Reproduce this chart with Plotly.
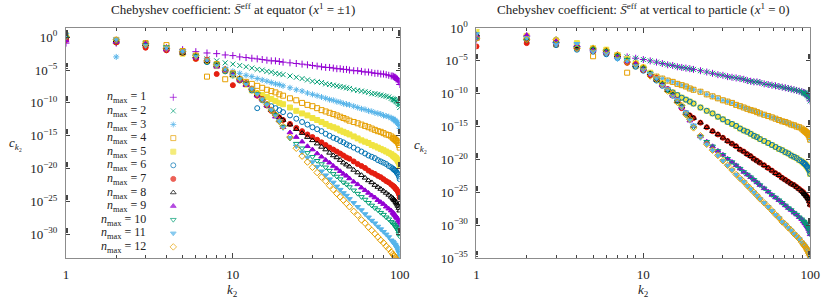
import numpy as np
import plotly.graph_objects as go

# ---------------- data (log10 of Chebyshev coefficient c_k2) ----------------
K2 = list(range(1, 21)) + list(range(22, 51, 2)) + list(range(53, 90, 3)) + list(range(91, 101))

# Left panel: at equator (x^1 = +-1), one list per n_max
EQ_N1 = [-0.9,-0.9,-1.3,-1.6,-1.9,-2.2,-2.4,-2.5,-2.7,-2.8,-3.0,-3.1,-3.2,-3.3,-3.4,-3.5,-3.6,-3.6,-3.7,-3.8,
         -3.9,-4.0,-4.1,-4.2,-4.3,-4.4,-4.5,-4.6,-4.6,-4.7,-4.8,-4.8,-4.9,-4.9,-5.0,
         -5.1,-5.1,-5.2,-5.3,-5.3,-5.4,-5.5,-5.5,-5.6,-5.6,-5.7,-5.8,-5.9,
         -5.9,-6.0,-6.1,-6.1,-6.2,-6.3,-6.4,-6.6,-6.8,-7.2]
EQ_N2 = [-0.1,-0.5,-1.0,-1.6,-2.3,-2.9,-3.3,-3.6,-3.9,-4.1,-4.3,-4.5,-4.7,-4.9,-5.0,-5.2,-5.3,-5.5,-5.6,-5.7,
         -5.9,-6.1,-6.3,-6.5,-6.7,-6.8,-6.9,-7.1,-7.2,-7.3,-7.4,-7.5,-7.6,-7.7,-7.8,
         -8.0,-8.1,-8.2,-8.3,-8.4,-8.6,-8.6,-8.7,-8.8,-8.9,-9.0,-9.1,-9.3,
         -9.4,-9.5,-9.5,-9.6,-9.7,-9.8,-9.9,-10.1,-10.3,-10.7]
EQ_N3 = [-0.3,-3.0,-1.2,-1.9,-2.4,-3.1,-3.7,-4.3,-4.8,-5.2,-5.5,-5.8,-6.0,-6.3,-6.5,-6.7,-6.9,-7.1,-7.2,-7.4,
         -7.7,-8.0,-8.2,-8.5,-8.7,-8.9,-9.1,-9.3,-9.5,-9.6,-9.8,-9.9,-10.1,-10.2,-10.3,
         -10.5,-10.7,-10.9,-11.0,-11.2,-11.3,-11.5,-11.6,-11.7,-11.9,-12.0,-12.1,-12.3,
         -12.4,-12.5,-12.6,-12.7,-12.8,-12.9,-13.0,-13.2,-13.4,-13.9]
EQ_N4 = [0.2,-0.4,-0.9,-1.2,-2.1,-2.8,-6.0,-4.1,-6.4,-5.5,-6.4,-6.8,-7.1,-7.4,-7.7,-8.0,-8.2,-8.4,-8.7,-8.9,
         -9.3,-9.6,-10.0,-10.3,-10.5,-10.8,-11.1,-11.3,-11.5,-11.7,-11.9,-12.1,-12.3,-12.5,-12.7,
         -12.9,-13.1,-13.3,-13.5,-13.7,-13.9,-14.1,-14.3,-14.4,-14.6,-14.8,-14.9,-15.1,
         -15.3,-15.4,-15.5,-15.6,-15.7,-15.8,-15.9,-16.1,-16.4,-16.8]
EQ_N5 = [0.3,-0.7,-1.3,-1.8,-2.5,-3.2,-3.5,-4.4,-5.1,-5.8,-6.5,-7.2,-8.1,-8.5,-8.8,-9.1,-9.4,-9.7,-10.0,-10.2,
         -10.7,-11.2,-11.6,-11.9,-12.3,-12.6,-12.9,-13.2,-13.5,-13.7,-13.9,-14.2,-14.4,-14.6,-14.8,
         -15.1,-15.4,-15.7,-15.9,-16.1,-16.4,-16.6,-16.8,-17.0,-17.2,-17.4,-17.6,-17.8,
         -18.0,-18.1,-18.2,-18.3,-18.4,-18.5,-18.7,-18.9,-19.1,-19.6]
EQ_N6 = [-0.3,-0.8,-1.0,-1.9,-2.2,-3.1,-3.8,-4.2,-5.2,-5.6,-6.6,-7.0,-8.1,-10.8,-9.6,-10.2,-10.5,-10.8,-11.1,-11.4,
         -11.9,-12.4,-12.9,-13.3,-13.7,-14.0,-14.3,-14.7,-15.0,-15.3,-15.5,-15.8,-16.0,-16.3,-16.5,
         -16.8,-17.1,-17.4,-17.7,-18.0,-18.2,-18.4,-18.7,-18.9,-19.1,-19.3,-19.6,-19.8,
         -20.0,-20.1,-20.2,-20.3,-20.4,-20.6,-20.7,-20.9,-21.2,-21.6]
EQ_N7 = [-0.4,-0.8,-1.6,-2.0,-2.4,-3.3,-3.4,-5.6,-4.9,-7.3,-6.5,-7.0,-7.9,-8.9,-9.4,-10.4,-11.2,-11.9,-12.2,-12.6,
         -13.2,-13.8,-14.3,-14.8,-15.2,-15.6,-16.0,-16.4,-16.8,-17.1,-17.4,-17.7,-18.0,-18.3,-18.5,
         -18.9,-19.3,-19.6,-19.9,-20.3,-20.6,-20.8,-21.1,-21.3,-21.6,-21.9,-22.1,-22.4,
         -22.6,-22.7,-22.8,-23.0,-23.1,-23.2,-23.4,-23.6,-23.9,-24.4]
EQ_N8 = [0.1,-0.5,-1.1,-1.6,-2.4,-2.9,-3.7,-4.3,-4.9,-5.8,-6.3,-7.2,-7.8,-8.8,-9.4,-10.4,-11.1,-11.7,-12.2,-12.6,
         -13.3,-14.0,-14.6,-15.2,-15.7,-16.2,-16.7,-17.1,-17.6,-18.0,-18.3,-18.7,-19.1,-19.4,-19.7,
         -20.2,-20.6,-21.0,-21.4,-21.8,-22.1,-22.5,-22.8,-23.1,-23.4,-23.7,-24.0,-24.3,
         -24.5,-24.7,-24.8,-24.9,-25.1,-25.3,-25.5,-25.7,-26.0,-26.4]
EQ_N9 = [-0.5,-0.7,-0.9,-1.9,-2.2,-3.1,-3.5,-4.5,-5.1,-5.6,-6.5,-7.3,-7.8,-8.9,-9.5,-10.4,-11.0,-12.1,-12.7,-13.7,
         -14.5,-15.2,-15.9,-16.6,-17.1,-17.7,-18.2,-18.7,-19.1,-19.6,-20.0,-20.4,-20.8,-21.1,-21.5,
         -22.0,-22.4,-22.9,-23.3,-23.7,-24.1,-24.4,-24.8,-25.1,-25.4,-25.8,-26.1,-26.4,
         -26.7,-26.8,-27.0,-27.1,-27.3,-27.4,-27.6,-27.9,-28.2,-28.6]
EQ_N10 = [0.0,-0.6,-1.2,-1.5,-2.4,-2.8,-3.8,-4.1,-5.2,-5.5,-6.4,-7.0,-8.0,-8.6,-9.6,-10.2,-11.2,-11.8,-12.9,-13.6,
          -15.4,-16.2,-16.9,-17.6,-18.2,-18.8,-19.3,-19.8,-20.3,-20.8,-21.2,-21.6,-22.1,-22.4,-22.8,
          -23.3,-23.8,-24.3,-24.7,-25.2,-25.6,-26.0,-26.3,-26.7,-27.0,-27.4,-27.7,-28.1,
          -28.3,-28.5,-28.6,-28.8,-28.9,-29.1,-29.3,-29.5,-29.9,-30.3]
EQ_N11 = [0.4,-0.3,-1.3,-1.6,-2.1,-3.0,-3.4,-4.4,-4.8,-5.9,-6.3,-7.2,-7.8,-8.7,-9.4,-10.3,-11.0,-12.0,-12.7,-13.8,
          -15.3,-16.6,-17.5,-18.3,-19.0,-19.7,-20.4,-21.0,-21.6,-22.1,-22.7,-23.2,-23.7,-24.1,-24.6,
          -25.2,-25.8,-26.3,-26.9,-27.4,-27.9,-28.3,-28.8,-29.2,-29.6,-30.0,-30.4,-30.9,
          -31.1,-31.3,-31.5,-31.6,-31.8,-32.0,-32.2,-32.5,-32.8,-33.3]
EQ_N12 = [0.1,-0.4,-1.0,-1.7,-2.2,-2.8,-3.6,-4.2,-5.0,-5.6,-6.3,-7.1,-7.9,-8.6,-9.5,-10.2,-11.1,-11.8,-12.8,-13.6,
          -15.2,-16.9,-18.1,-19.0,-19.8,-20.6,-21.3,-21.9,-22.6,-23.2,-23.8,-24.3,-24.8,-25.3,-25.8,
          -26.5,-27.1,-27.8,-28.3,-28.9,-29.4,-29.9,-30.4,-30.9,-31.3,-31.8,-32.2,-32.7,
          -33.0,-33.2,-33.3,-33.5,-33.7,-33.9,-34.1,-34.4,-34.7,-35.2]

# Right panel: vertical to particle (x^1 = 0); series come in overlapping pairs.
# Early (scattered) part of each series, then the shared tail of its pair.
VP_HEAD_1 = [-1.8,-1.2]
VP_HEAD_2 = [-0.6,-1.5]
VP_TAIL_12 = [-2.2,-2.8,-3.3,-3.7,-4.1,-4.4,-4.6,-4.8,-5.0,-5.2,-5.4,-5.6,-5.7,-5.9,-6.0,-6.1,-6.2,-6.3,
              -6.5,-6.7,-6.9,-7.1,-7.2,-7.4,-7.5,-7.6,-7.7,-7.8,-8.0,-8.1,-8.2,-8.2,-8.3,
              -8.5,-8.6,-8.7,-8.8,-8.9,-9.0,-9.1,-9.2,-9.3,-9.4,-9.5,-9.6,-9.7,
              -9.8,-9.9,-9.9,-10.0,-10.1,-10.2,-10.3,-10.5,-10.7,-11.1]
VP_HEAD_3 = [-0.8,-1.9,-1.7,-3.2,-3.0,-3.9,-4.5,-5.3,-5.4,-6.1]
VP_HEAD_4 = [-1.5,-1.4,-2.5,-2.6,-4.3,-3.7,-4.2,-6.8,-5.8,-6.3]
VP_TAIL_34 = [-7.0,-7.4,-7.7,-8.0,-8.2,-8.5,-8.7,-8.9,-9.2,-9.4,
              -9.7,-10.1,-10.4,-10.7,-11.0,-11.2,-11.4,-11.7,-11.9,-12.1,-12.3,-12.5,-12.6,-12.8,-13.0,
              -13.2,-13.4,-13.6,-13.8,-14.0,-14.2,-14.3,-14.5,-14.7,-14.8,-15.0,-15.1,-15.3,
              -15.5,-15.6,-15.7,-15.8,-15.9,-16.0,-16.1,-16.3,-16.6,-17.0]
VP_HEAD_5 = [-0.6,-1.2,-1.9,-2.3,-3.1,-3.3,-4.1,-4.7,-5.4,-6.0,-6.8,-7.6,-8.4]
VP_HEAD_6 = [-1.3,-1.8,-2.6,-3.3,-3.6,-4.0,-4.6,-5.2,-5.9,-6.5,-7.2,-8.0,-8.8]
VP_TAIL_56 = [-9.4,-9.8,-10.2,-10.6,-10.9,-11.2,-11.5,
              -12.1,-12.6,-13.0,-13.5,-13.9,-14.3,-14.6,-14.9,-15.3,-15.6,-15.8,-16.1,-16.4,-16.6,-16.9,
              -17.2,-17.5,-17.8,-18.1,-18.4,-18.6,-18.9,-19.1,-19.4,-19.6,-19.8,-20.1,-20.3,
              -20.5,-20.6,-20.7,-20.8,-21.0,-21.1,-21.3,-21.5,-21.7,-22.2]
VP_HEAD_7 = [-2.8,-2.3,-2.4,-3.0,-3.5,-3.8,-4.4,-5.3,-5.5,-6.4,-7.2,-7.6,-8.7,-9.3,-10.3,-11.0,-12.2]
VP_HEAD_8 = [-1.0,-1.6,-2.1,-2.8,-3.2,-3.5,-4.2,-4.9,-5.7,-6.1,-6.9,-7.9,-8.5,-9.5,-10.1,-11.2,-11.9]
VP_TAIL_78 = [-12.9,-13.3,-13.7,
              -14.4,-15.1,-15.7,-16.2,-16.7,-17.2,-17.6,-18.0,-18.5,-18.8,-19.2,-19.5,-19.9,-20.2,-20.5,
              -20.9,-21.3,-21.7,-22.1,-22.4,-22.8,-23.1,-23.4,-23.7,-23.9,-24.2,-24.5,-24.8,
              -25.0,-25.2,-25.3,-25.4,-25.6,-25.7,-25.9,-26.1,-26.4,-26.9]
VP_HEAD_9 = [-1.2,-1.1,-2.0,-2.6,-3.4,-3.7,-4.4,-5.1,-5.5,-6.3,-7.1,-7.7,-8.7,-9.3,-10.3,-11.0,-12.1,-12.9,-14.1,-14.9]
VP_HEAD_10 = [-1.7,-1.9,-2.3,-3.0,-3.2,-3.5,-4.2,-4.8,-5.7,-6.1,-6.9,-7.9,-8.5,-9.5,-10.1,-11.2,-11.9,-13.1,-13.9,-15.1]
VP_TAIL_910 = [-16.5,-17.3,-18.0,-18.7,-19.3,-19.9,-20.4,-20.9,-21.4,-21.9,-22.3,-22.7,-23.1,-23.5,-23.9,
               -24.4,-24.9,-25.4,-25.8,-26.2,-26.6,-27.0,-27.4,-27.7,-28.1,-28.4,-28.8,-29.1,
               -29.4,-29.5,-29.7,-29.8,-30.0,-30.2,-30.4,-30.6,-30.9,-31.4]
VP_HEAD_11 = [-0.9,-1.5,-2.5,-2.4,-3.6,-3.9,-4.7,-5.0,-5.8,-6.4,-7.0,-7.6,-8.8,-9.3,-10.4,-10.9,-12.1,-12.8,-14.1,-14.8,-16.7]
VP_HEAD_12 = [-1.6,-1.7,-1.8,-3.1,-3.1,-3.4,-4.1,-5.2,-5.4,-6.0,-7.3,-7.8,-8.5,-9.6,-10.0,-11.3,-11.8,-13.2,-13.9,-15.2,-16.4]
VP_TAIL_1112 = [-17.7,-18.6,-19.4,-20.2,-20.9,-21.6,-22.3,-22.9,-23.4,-24.0,-24.5,-25.0,-25.5,-26.0,
                -26.6,-27.2,-27.8,-28.4,-28.9,-29.5,-29.9,-30.4,-30.8,-31.3,-31.7,-32.1,-32.6,
                -32.9,-33.1,-33.2,-33.4,-33.6,-33.8,-34.0,-34.3,-34.6,-35.1]

NMAX = list(range(1, 13))
LEFT = [EQ_N1, EQ_N2, EQ_N3, EQ_N4, EQ_N5, EQ_N6, EQ_N7, EQ_N8, EQ_N9, EQ_N10, EQ_N11, EQ_N12]
RIGHT = [VP_HEAD_1 + VP_TAIL_12, VP_HEAD_2 + VP_TAIL_12,
         VP_HEAD_3 + VP_TAIL_34, VP_HEAD_4 + VP_TAIL_34,
         VP_HEAD_5 + VP_TAIL_56, VP_HEAD_6 + VP_TAIL_56,
         VP_HEAD_7 + VP_TAIL_78, VP_HEAD_8 + VP_TAIL_78,
         VP_HEAD_9 + VP_TAIL_910, VP_HEAD_10 + VP_TAIL_910,
         VP_HEAD_11 + VP_TAIL_1112, VP_HEAD_12 + VP_TAIL_1112]
for s in LEFT + RIGHT:
    assert len(s) == len(K2), len(s)

# ---------------- styles ----------------
COLORS = ['#9400d3', '#009e73', '#56b4e9', '#e69f00', '#f0e442', '#0072b2',
          '#e51e10', '#000000', '#9400d3', '#009e73', '#56b4e9', '#e69f00']
SYMBOLS = ['cross-thin-open', 'x-thin-open', 'asterisk-open', 'square-open', 'square', 'circle-open',
           'circle', 'triangle-up-open', 'triangle-up', 'triangle-down-open', 'triangle-down', 'diamond-open']
SIZES = [5, 5, 5, 5, 5, 5, 5, 5, 5, 5, 5, 5]
SERIF = 'Liberation Serif, Times New Roman, serif'
TXT = '#222222'

W, H = 830, 299
TOP, BOT = 28, 258
LX0, LX1 = 64, 403
RX0, RX1 = 481, 820
LEFT_YR = (-33.6, 1.4)
RIGHT_YR = (-35.0, 0.0)


def px(x):
    return x / W


def py(y):
    return (BOT - y) / (BOT - TOP)


fig = go.Figure()

for i, n in enumerate(NMAX):
    mk = dict(symbol=SYMBOLS[i], size=SIZES[i], color=COLORS[i], line=dict(width=1, color=COLORS[i]))
    fig.add_trace(go.Scatter(x=K2, y=10.0 ** np.array(LEFT[i]), mode='markers', marker=mk,
                             xaxis='x', yaxis='y', showlegend=False, name=f'n_max = {n}'))
for i, n in enumerate(NMAX):
    mk = dict(symbol=SYMBOLS[i], size=SIZES[i], color=COLORS[i], line=dict(width=1, color=COLORS[i]))
    fig.add_trace(go.Scatter(x=K2, y=10.0 ** np.array(RIGHT[i]), mode='markers', marker=mk,
                             xaxis='x2', yaxis='y2', showlegend=False, name=f'n_max = {n}'))

# ---------------- custom legend (text left of symbol), placed by pixel layout ----------------
LEG_TOP, LEG_STEP = 97.3, 13.6
LEG_TEXT_X, LEG_KEY_X = 147, 173
leg_py = [LEG_TOP + LEG_STEP * i for i in range(len(NMAX))]
key_x = 10.0 ** (2.0 * (LEG_KEY_X - LX0) / (LX1 - LX0))
key_y = [10.0 ** (LEFT_YR[1] - (yy - TOP) / (BOT - TOP) * (LEFT_YR[1] - LEFT_YR[0])) for yy in leg_py]
fig.add_trace(go.Scatter(
    x=[key_x] * len(NMAX), y=key_y, mode='markers',
    marker=dict(symbol=SYMBOLS, size=SIZES, color=COLORS, line=dict(width=1, color=COLORS)),
    xaxis='x', yaxis='y', showlegend=False, hoverinfo='skip'))

annotations = []
for i, n in enumerate(NMAX):
    annotations.append(dict(text=f'<i>n</i><sub>max</sub> = {n}', x=px(LEG_TEXT_X), y=py(leg_py[i]),
                            xref='paper', yref='paper', xanchor='right', yanchor='middle',
                            showarrow=False, font=dict(family=SERIF, size=12, color=TXT)))

# titles
annotations.append(dict(text='Chebyshev coefficient: <i>S\u0304</i><sup>eff</sup> at equator (<i>x</i><sup>1</sup> = \u00b11)',
                        x=px((LX0 + LX1) / 2), y=py(9), xref='paper', yref='paper', showarrow=False,
                        xanchor='center', yanchor='middle', font=dict(family=SERIF, size=13, color=TXT)))
annotations.append(dict(text='Chebyshev coefficient: <i>S\u0304</i><sup>eff</sup> at vertical to particle (<i>x</i><sup>1</sup> = 0)',
                        x=px(651), y=py(9), xref='paper', yref='paper', showarrow=False,
                        xanchor='center', yanchor='middle', font=dict(family=SERIF, size=13, color=TXT)))
# axis titles
for cx in [(LX0 + LX1) / 2, (RX0 + RX1) / 2]:
    annotations.append(dict(text='<i>k</i><sub>2</sub>', x=px(cx), y=py(290), xref='paper', yref='paper',
                            showarrow=False, xanchor='center', yanchor='middle',
                            font=dict(family=SERIF, size=13, color=TXT)))
for cx, cy in [(13, 143), (424, 145)]:
    annotations.append(dict(text='<i>c</i><sub><i>k</i>\u2082</sub>', x=px(cx), y=py(cy), xref='paper', yref='paper',
                            showarrow=False, xanchor='center', yanchor='middle',
                            font=dict(family=SERIF, size=13, color=TXT)))

# ---------------- axes ----------------
XMINOR = [2, 3, 4, 5, 6, 7, 8, 9, 20, 30, 40, 50, 60, 70, 80, 90]


def xaxis(x0, x1, anchor):
    return dict(type='log', range=[0, 2], domain=[px(x0), px(x1)], anchor=anchor,
                tickmode='array', tickvals=[1, 10, 100], ticktext=['1', '10', '100'],
                ticks='inside', ticklen=5, tickwidth=1, tickcolor='#444444',
                showline=True, linecolor='#8c8c8c', linewidth=1, mirror='ticks',
                showgrid=False, zeroline=False, ticklabelstandoff=4,
                minor=dict(tickmode='array', tickvals=XMINOR, ticks='inside', ticklen=3,
                           tickcolor='#444444', showgrid=False),
                tickfont=dict(family=SERIF, size=13, color=TXT))


def yaxis(yr, exps, anchor):
    tv = [10.0 ** e for e in exps]
    tt = ['10<sup>%s</sup>' % (str(e).replace('-', '\u2212')) for e in exps]
    minor = [m * 10.0 ** e for e in exps for m in range(2, 10)]
    return dict(type='log', range=list(yr), domain=[0, 1], anchor=anchor,
                tickmode='array', tickvals=tv, ticktext=tt,
                ticks='inside', ticklen=4, tickwidth=1, tickcolor='#444444',
                showline=True, linecolor='#8c8c8c', linewidth=1, mirror='ticks',
                showgrid=False, zeroline=False, ticklabelstandoff=5,
                minor=dict(tickmode='array', tickvals=minor, ticks='inside', ticklen=2,
                           tickcolor='#444444', showgrid=False),
                tickfont=dict(family=SERIF, size=13, color=TXT))


fig.update_layout(
    width=W, height=H,
    margin=dict(l=0, r=0, t=TOP, b=H - BOT, pad=0),
    paper_bgcolor='white', plot_bgcolor='white',
    showlegend=False,
    xaxis=xaxis(LX0, LX1, 'y'),
    yaxis=yaxis(LEFT_YR, [0, -5, -10, -15, -20, -25, -30], 'x'),
    xaxis2=xaxis(RX0, RX1, 'y2'),
    yaxis2=yaxis(RIGHT_YR, [0, -5, -10, -15, -20, -25, -30, -35], 'x2'),
    annotations=annotations,
)

fig.write_html('out.html', config={'displayModeBar': False, 'staticPlot': True},
               post_script="document.body.style.margin='0px';document.body.style.overflow='hidden';")
